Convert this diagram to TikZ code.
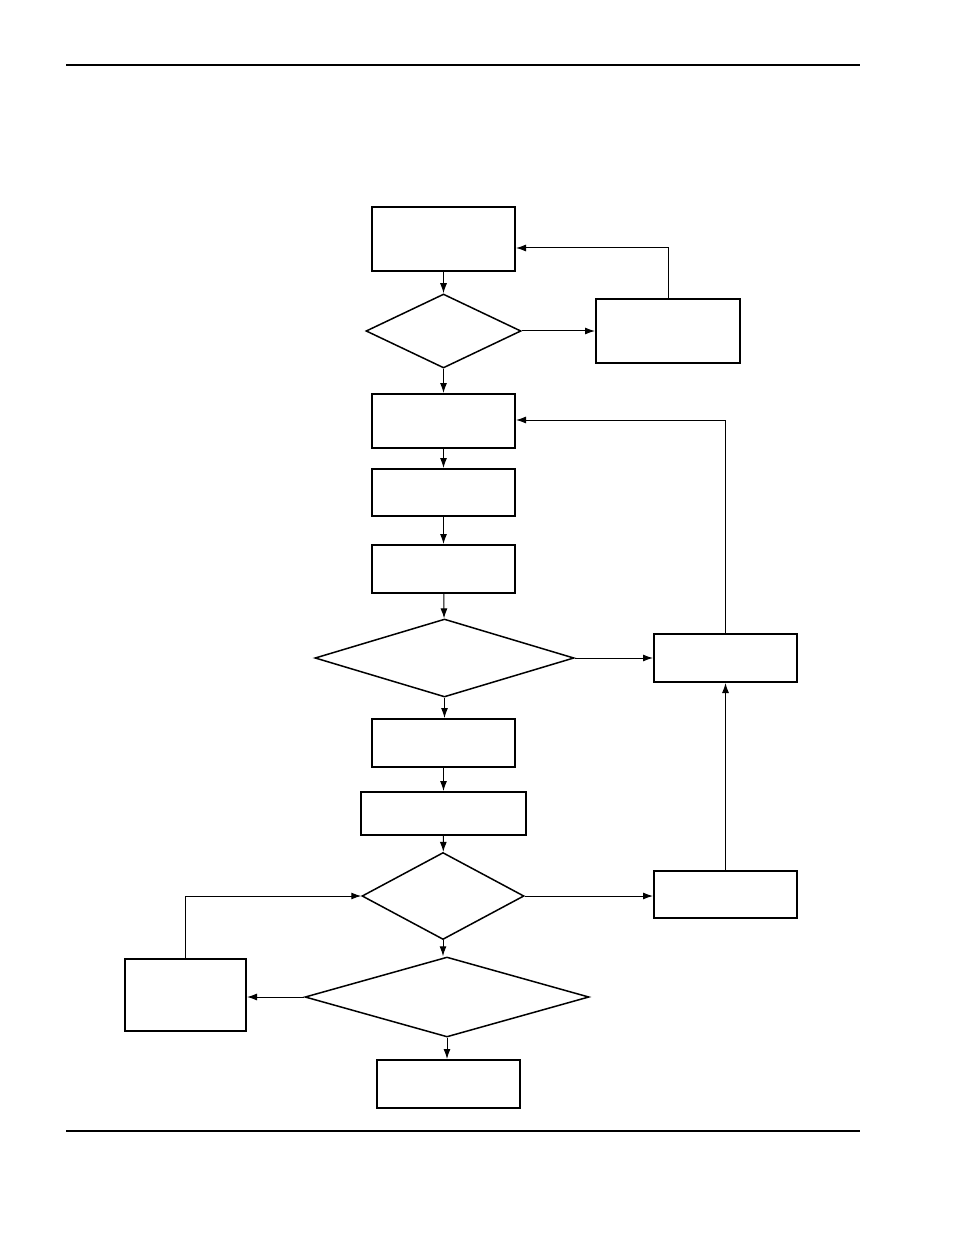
\documentclass[tikz,border=0pt]{standalone}
\usepackage{tikz}
\usetikzlibrary{shapes.geometric,arrows.meta,positioning}

\begin{document}
\begin{tikzpicture}[x=0.5pt, y=-0.5pt]
  \tikzset{
    procbox/.style={draw, line width=1pt, minimum width=71.5pt, minimum height=24pt, inner sep=0pt},
    decision/.style={draw, diamond, line width=0.75pt, inner sep=0pt},
    flow/.style={line width=0.5pt, -{Latex[length=5pt, width=3.5pt]}}
  }
  \useasboundingbox (0,0) rectangle (954,1235);

  % Page rules
  \draw[line width=0.6pt] (66,65) -- (860,65);
  \draw[line width=1.3pt] (66,1131) -- (860,1131);

  % Upper loop
  \node[procbox, minimum height=32pt]   (start)  at (443.5,239)   {};
  \node[decision, minimum width=77.5pt, minimum height=37pt] (check1) at (443.5,331) {};
  \node[procbox, minimum width=72pt, minimum height=31.5pt] (fix1) at (668,331) {};

  % Middle column
  \node[procbox, minimum height=27pt]   (stepA)  at (443.5,421)   {};
  \node[procbox, minimum height=23.5pt] (stepB)  at (443.5,492.5) {};
  \node[procbox]                        (stepC)  at (443.5,569)   {};
  \node[decision, minimum width=129.5pt, minimum height=39pt] (check2) at (444.5,658) {};
  \node[procbox]                        (fix2)   at (725.5,658)   {};
  \node[procbox]                        (stepD)  at (443.5,743)   {};
  \node[procbox, minimum width=82.5pt, minimum height=21.5pt] (stepE) at (443.5,813.5) {};

  % Lower part
  \node[decision, minimum width=81pt, minimum height=43.5pt] (check3) at (443,896) {};
  \node[procbox, minimum height=23.5pt] (fix3)   at (725.5,894.5) {};
  \node[decision, minimum width=142pt, minimum height=40pt] (check4) at (447,997) {};
  \node[procbox, minimum width=60.5pt, minimum height=36pt] (retry) at (185.5,995) {};
  \node[procbox]                        (finish) at (448.5,1084)  {};

  % Connectors
  \draw[flow] (start) -- (check1);
  \draw[flow] (check1) -- (fix1);
  \draw[flow] (fix1.north) |- ([yshift=-4.5pt]start.east);
  \draw[flow] (check1) -- (stepA);
  \draw[flow] (stepA) -- (stepB);
  \draw[flow] (stepB) -- (stepC);
  \draw[flow] (stepC) -- (check2);
  \draw[flow] (check2) -- (fix2);
  \draw[flow] (fix2.north) |- ([yshift=0.5pt]stepA.east);
  \draw[flow] (check2.south) -- (check2.south |- stepD.north);
  \draw[flow] (stepD) -- (stepE);
  \draw[flow] (stepE) -- (check3);
  \draw[flow] (check3.east) -- (fix3.west |- check3.east);
  \draw[flow] (fix3) -- (fix2);
  \draw[flow] (check3.south) -- (check3.south |- check4.north);
  \draw[flow] (check4.west) -- (retry.east |- check4.west);
  \draw[flow] (retry.north) |- (check3.west);
  \draw[flow] (check4.south) -- (check4.south |- finish.north);
\end{tikzpicture}
\end{document}
